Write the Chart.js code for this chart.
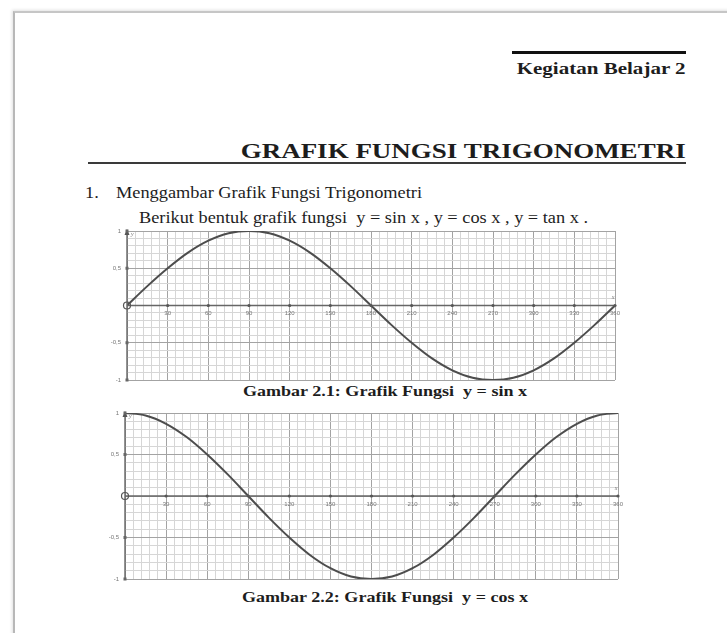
<!DOCTYPE html>
<html><head><meta charset="utf-8">
<script src="https://cdn.jsdelivr.net/npm/chart.js@4.4.1/dist/chart.umd.min.js"></script>
<style>
html,body{margin:0;padding:0;background:#fff;width:727px;height:633px;overflow:hidden;}
body{position:relative;font-family:"Liberation Serif","Times New Roman",serif;color:#1d1d1d;}
.page{position:absolute;left:13px;top:11px;width:800px;height:700px;border-left:2px solid #b8b8b8;border-top:2px solid #c6c6c6;box-shadow:-1px -1px 3px rgba(0,0,0,0.12);}
.t{position:absolute;white-space:pre;line-height:1;}
.bar{position:absolute;}
.cw{position:absolute;}
</style></head><body>
<div class="page"></div>
<div class="bar" style="left:512px;top:51px;width:174px;height:2.5px;background:#111"></div>
<div class="bar" style="left:88px;top:162px;width:598px;height:2px;background:#3a3a3a"></div>

<div id="keg" class="t" style="font-weight:bold;font-size:17.5px;"><span>Kegiatan Belajar 2</span></div>
<div id="title" class="t" style="font-weight:bold;font-size:22px;"><span>GRAFIK FUNGSI TRIGONOMETRI</span></div>
<div id="num" class="t" style="font-size:16px;">1.</div>
<div id="l1" class="t" style="font-size:16px;"><span>Menggambar Grafik Fungsi Trigonometri</span></div>
<div id="l2" class="t" style="font-size:16px;"><span>Berikut bentuk grafik fungsi</span>  y = sin x , y = cos x , y = tan x .</div>
<div id="cap1" class="t" style="font-weight:bold;font-size:15.5px;"><span>Gambar 2.1: Grafik Fungsi  y = sin x</span></div>
<div id="cap2" class="t" style="font-weight:bold;font-size:15.5px;"><span>Gambar 2.2: Grafik Fungsi  y = cos x</span></div>

<div id="w1" class="cw"><canvas id="c1"></canvas></div>
<div id="w2" class="cw"><canvas id="c2"></canvas></div>

<script>
// ---- data ----
const angles = [0,15,30,45,60,75,90,105,120,135,150,165,180,195,210,225,240,255,270,285,300,315,330,345,360];
const sinValues = [0,0.26,0.5,0.71,0.87,0.97,1,0.97,0.87,0.71,0.5,0.26,0,-0.26,-0.5,-0.71,-0.87,-0.97,-1,-0.97,-0.87,-0.71,-0.5,-0.26,0];
const cosValues = [1,0.97,0.87,0.71,0.5,0.26,0,-0.26,-0.5,-0.71,-0.87,-0.97,-1,-0.97,-0.87,-0.71,-0.5,-0.26,0,0.26,0.5,0.71,0.87,0.97,1];
const xTickValues = [30,60,90,120,150,180,210,240,270,300,330,360];
const xTickLabels = ["30","60","90","120","150","180","210","240","270","300","330","360"];
const yTickValues = [1,0.5,-0.5,-1];
const yTickLabels = ["1","0,5","-0,5","-1"];

// ---- text placement ----
function place(id, opts){
  const el = document.getElementById(id);
  const fs = parseFloat(el.style.fontSize);
  el.style.top = (opts.cy - fs*0.5) + 'px';
  const span = el.querySelector('span') || el;
  const natural = span.getBoundingClientRect().width;
  const s = opts.w ? opts.w / natural : (opts.s || 1);
  if (opts.right !== undefined){
    el.style.right = (727 - opts.right) + 'px';
    el.style.transformOrigin = 'right center';
  } else {
    el.style.left = opts.left + 'px';
    el.style.transformOrigin = 'left center';
  }
  el.style.transform = 'scaleX(' + s + ')';
  return s;
}
place('keg', {right:686, cy:69, w:169});
place('title', {right:686, cy:150.5, w:445});
const sBody = place('l1', {left:116, cy:192.5, w:306});
place('num', {left:85, cy:192.5, s:sBody});
place('l2', {left:139, cy:217.5, w:208});
place('cap1', {left:243, cy:391, w:284});
place('cap2', {left:242, cy:597, w:286});

// ---- chart decorations ----
const axisDecor = {
  id:'axisDecor',
  afterDraw(chart){
    const {ctx, scales:{x, y}} = chart;
    const x0 = x.getPixelForValue(0), y0 = y.getPixelForValue(0);
    const xEnd = x.getPixelForValue(360);
    const yTop = y.getPixelForValue(1), yBot = y.getPixelForValue(-1);
    ctx.save();
    ctx.strokeStyle = '#666'; ctx.lineWidth = 1.4;
    ctx.beginPath(); ctx.moveTo(x0, yBot); ctx.lineTo(x0, yTop); ctx.stroke();
    ctx.beginPath(); ctx.moveTo(x0, y0); ctx.lineTo(xEnd, y0); ctx.stroke();
    // y arrow
    ctx.fillStyle = '#555';
    ctx.beginPath(); ctx.moveTo(x0, yTop-2); ctx.lineTo(x0-2.5, yTop+4); ctx.lineTo(x0+2.5, yTop+4); ctx.closePath(); ctx.fill();
    // y labels
    ctx.font = '6px "Liberation Sans", Arial, sans-serif';
    ctx.fillStyle = '#777'; ctx.textAlign = 'right'; ctx.textBaseline = 'middle';
    yTickValues.forEach((v,i)=>{
      const py = y.getPixelForValue(v);
      ctx.fillText(yTickLabels[i], x0 - 6, py);
      ctx.fillStyle = '#666';
      ctx.fillRect(x0-1.5, py-1.5, 3, 3);
      ctx.fillStyle = '#777';
    });
    // x labels + dots
    ctx.textAlign = 'center'; ctx.textBaseline = 'top';
    xTickValues.forEach((v,i)=>{
      const px = x.getPixelForValue(v);
      ctx.fillStyle = '#777';
      ctx.fillText(xTickLabels[i], px, y0 + 5);
      ctx.fillStyle = '#555';
      ctx.beginPath(); ctx.arc(px, y0, 1.6, 0, Math.PI*2); ctx.fill();
    });
    // axis names
    ctx.fillStyle = '#777'; ctx.font = 'italic 6px "Liberation Serif", serif';
    ctx.textAlign = 'left'; ctx.textBaseline = 'middle';
    ctx.fillText('y', x0 + 4, yTop + 3);
    ctx.textAlign = 'center';
    ctx.fillText('x', xEnd - 2, y0 - 8);
    // origin circle
    ctx.strokeStyle = '#555'; ctx.lineWidth = 1.2;
    ctx.beginPath(); ctx.arc(x0, y0, 3.5, 0, Math.PI*2); ctx.stroke();
    ctx.restore();
  }
};

function isMult(v, m){ const r = v / m; return Math.abs(r - Math.round(r)) < 1e-6; }

function makeChart(canvasId, wrapId, values, area){
  const pad = {left:24, right:10, top:8, bottom:6};
  const cw = area.right - area.left + pad.left + pad.right;
  const ch = area.bottom - area.top + pad.top + pad.bottom;
  const cv = document.getElementById(canvasId);
  cv.width = cw; cv.height = ch;
  cv.style.width = cw + 'px'; cv.style.height = ch + 'px';
  const wrap = document.getElementById(wrapId);
  wrap.style.left = (area.left - pad.left) + 'px';
  wrap.style.top = (area.top - pad.top) + 'px';
  const chart = new Chart(cv, {
    type:'line',
    data:{datasets:[{
      data: angles.map((a,i)=>({x:a, y:values[i]})),
      borderColor:'#4d4d4d', borderWidth:2, pointRadius:0,
      cubicInterpolationMode:'monotone', fill:false
    }]},
    options:{
      responsive:false, animation:false, devicePixelRatio:1,
      layout:{padding:pad},
      plugins:{legend:{display:false}, tooltip:{enabled:false}},
      scales:{
        x:{type:'linear', min:0, max:360,
           ticks:{display:false, stepSize:6, autoSkip:false},
           border:{display:false},
           grid:{drawTicks:false, lineWidth:1,
             color:(c)=> isMult(c.tick.value,30) ? '#a3a3a3' : '#d6d6d6'}},
        y:{type:'linear', min:-1, max:1,
           ticks:{display:false, stepSize:0.1, autoSkip:false},
           border:{display:false},
           grid:{drawTicks:false, lineWidth:1,
             color:(c)=> isMult(c.tick.value,0.5) ? '#a3a3a3' : '#d6d6d6'}}
      }
    },
    plugins:[axisDecor]
  });
  const ca = chart.chartArea;
  const dx = area.left - (area.left - pad.left + ca.left);
  const dy = area.top - (area.top - pad.top + ca.top);
  if (Math.abs(dx) > 0.5 || Math.abs(dy) > 0.5){
    wrap.style.left = (area.left - pad.left + dx) + 'px';
    wrap.style.top = (area.top - pad.top + dy) + 'px';
  }
  return chart;
}

makeChart('c1','w1', sinValues, {left:127, right:615, top:231, bottom:380});
makeChart('c2','w2', cosValues, {left:125, right:618, top:413, bottom:579});
</script>
</body></html>
